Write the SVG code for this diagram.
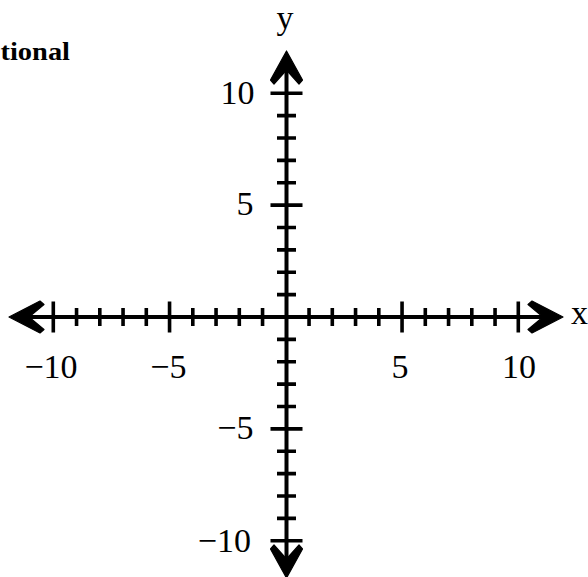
<svg xmlns="http://www.w3.org/2000/svg" width="588" height="577" viewBox="0 0 588 577">
<defs>
<style>
.ax{stroke:#000;stroke-width:4;fill:none}
.tk{stroke:#000;stroke-width:3.6;fill:none}
.ah{fill:#000;stroke:#000;stroke-width:1.2;stroke-linejoin:round}
.lb{font-family:"Liberation Serif","Times New Roman",serif;font-size:34px;fill:#000}
.ti{font-family:"Liberation Serif","Times New Roman",serif;font-size:25px;font-weight:bold;fill:#000}
</style>
</defs>
<rect width="588" height="577" fill="#fff"/>
<text class="ti" x="0.5" y="60" textLength="69.5" lengthAdjust="spacingAndGlyphs">tional</text>
<g id="axes">
<line class="ax" x1="25" y1="317" x2="548" y2="317"/>
<line class="ax" x1="286.5" y1="66" x2="286.5" y2="563"/>
<path class="ah" d="M9,317 L40,301 L44,304.5 L29,317 L44,329.5 L40,333 Z"/>
<path class="ah" d="M563,317 L532,301 L528,304.5 L543,317 L528,329.5 L532,333 Z"/>
<path class="ah" d="M286.5,51 L302.5,80 L299,84 L286.5,70 L274,84 L270.5,80 Z"/>
<path class="ah" d="M286.5,578 L302.5,549 L299,545 L286.5,559 L274,545 L270.5,549 Z"/>
</g>
<g id="x-ticks">
<path class="tk" d="M53.3,301.5V332.5 M169.55,301.5V332.5 M402.05,301.5V332.5 M518.3,301.5V332.5"/>
<path class="tk" d="M76.55,308V326 M99.8,308V326 M123.05,308V326 M146.3,308V326 M192.8,308V326 M216.05,308V326 M239.3,308V326 M262.55,308V326 M309.05,308V326 M332.3,308V326 M355.55,308V326 M378.8,308V326 M425.3,308V326 M448.55,308V326 M471.8,308V326 M495.05,308V326"/>
</g>
<g id="y-ticks">
<path class="tk" d="M270.5,93.3H302.5 M270.5,205.15H302.5 M270.5,428.85H302.5 M270.5,540.7H302.5"/>
<path class="tk" d="M277,115.67H296 M277,138.04H296 M277,160.41H296 M277,182.78H296 M277,227.52H296 M277,249.89H296 M277,272.26H296 M277,294.63H296 M277,339.37H296 M277,361.74H296 M277,384.11H296 M277,406.48H296 M277,451.22H296 M277,473.59H296 M277,495.96H296 M277,518.33H296"/>
</g>
<g id="labels">
<text class="lb" x="285" y="29" text-anchor="middle">y</text>
<text class="lb" x="571" y="323.5">x</text>
<text class="lb" x="254.5" y="103.5" text-anchor="end">10</text>
<text class="lb" x="253.5" y="215" text-anchor="end">5</text>
<text class="lb" x="253.5" y="438.5" text-anchor="end">−5</text>
<text class="lb" x="251" y="551.5" text-anchor="end">−10</text>
<text class="lb" x="51" y="377.5" text-anchor="middle">−10</text>
<text class="lb" x="168.3" y="377.5" text-anchor="middle">−5</text>
<text class="lb" x="400" y="377.5" text-anchor="middle">5</text>
<text class="lb" x="519" y="377.5" text-anchor="middle">10</text>
</g>
</svg>
